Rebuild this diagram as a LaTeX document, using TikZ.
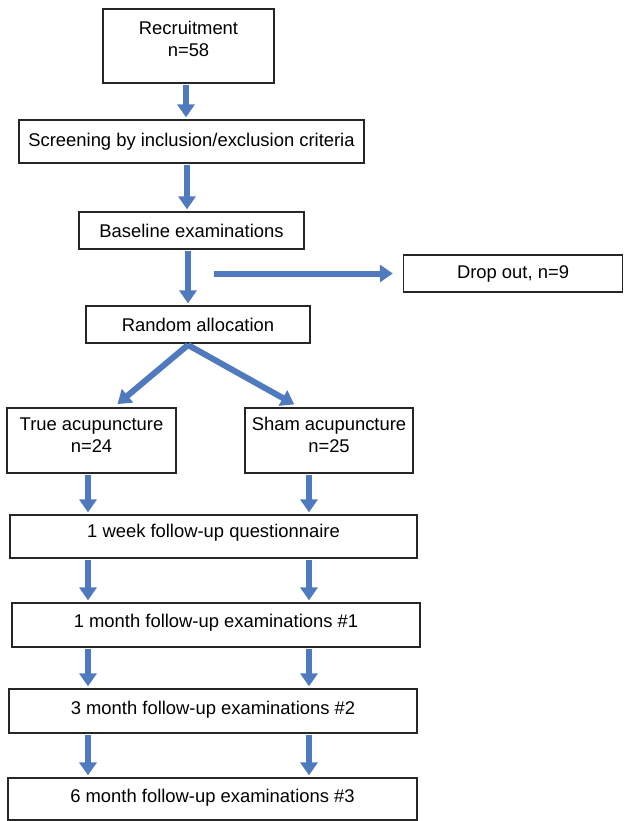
\documentclass[tikz,border=0pt]{standalone}
\usepackage{fontspec}
\setmainfont{Liberation Sans}
\usetikzlibrary{arrows.meta,calc}
\definecolor{arrowblue}{RGB}{79,122,189}
\begin{document}
\begin{tikzpicture}[x=1pt,y=-1pt]
            \tikzset{
                box/.style={draw=black!85,line width=1.3pt,align=center,inner sep=0pt,
                    font=\fontsize{18.4}{22}\selectfont},
                lift/.style={text height=13.5pt,text depth=#1},
                lifttwo/.style={text height=35.5pt,text depth=#1},
                flow/.style={draw=arrowblue,line width=6pt,
                    -{Triangle[width=17pt,length=13pt]},shorten <=1pt,shorten >=2pt},}
            \useasboundingbox (0,0) rectangle (625,821);
            % boxes, placed at the pixel centres of the scan
            \node[box,lifttwo=15pt,minimum width=171pt,minimum height=74pt] (rec) at (188.5,46) {Recruitment\\n=58};
            \node[box,minimum width=345pt,minimum height=43pt] (scr) at (191.5,141.5) {Screening by inclusion/exclusion criteria};
            \node[box,minimum width=225pt,minimum height=37pt] (base) at (191.5,230.5) {Baseline examinations};
            \node[box,minimum width=219pt,minimum height=37pt] (drop) at (513,273.5) {Drop out, n=9};
            \node[box,minimum width=224pt,minimum height=37pt] (rand) at (198,324.5) {Random allocation};
            \node[box,lifttwo=11pt,minimum width=169pt,minimum height=65pt] (tru) at (91.5,440.5) {True acupuncture\\n=24};
            \node[box,lifttwo=11pt,minimum width=168pt,minimum height=65pt] (sham) at (329,440.5) {Sham acupuncture\\n=25};
            \node[box,lift=12pt,minimum width=407pt,minimum height=43pt] (week) at (213.5,536.5) {1 week follow-up questionnaire};
            \node[box,lift=8pt,minimum width=408pt,minimum height=44pt] (m1) at (216,625) {1 month follow-up examinations \#1};
            \node[box,lift=7pt,minimum width=408pt,minimum height=44pt] (m3) at (213,711) {3 month follow-up examinations \#2};
            \node[box,lift=7pt,minimum width=409pt,minimum height=42pt] (m6) at (212.5,799) {6 month follow-up examinations \#3};
            % helper points
            \coordinate (dropstart) at (213,273.5);
            \coordinate (split) at (188,345);
            \coordinate (lcol) at (88,0);
            \coordinate (rcol) at (309,0);
            % arrows
            \draw[flow] (rec.south -| 186,0) -- (scr.north -| 186,0);
            \draw[flow] (scr.south -| 187,0) -- (base.north -| 187,0);
            \draw[flow] (base.south -| 188,0) -- (rand.north -| 188,0);
            \draw[flow,shorten >=10pt] (dropstart) -- (drop.west);
            \draw[flow,shorten <=0pt] (split) -- ($(tru.north)+(24.5,-2)$);
            \draw[flow,shorten <=0pt] (split) -- ($(sham.north)+(-33,-2)$);
            \foreach \a/\b/\c in {tru/sham/week,week/week/m1,m1/m1/m3,m3/m3/m6}{
                \draw[flow] (\a.south -| lcol) -- (\c.north -| lcol);
                \draw[flow] (\b.south -| rcol) -- (\c.north -| rcol);
            }
        \end{tikzpicture}
\end{document}
